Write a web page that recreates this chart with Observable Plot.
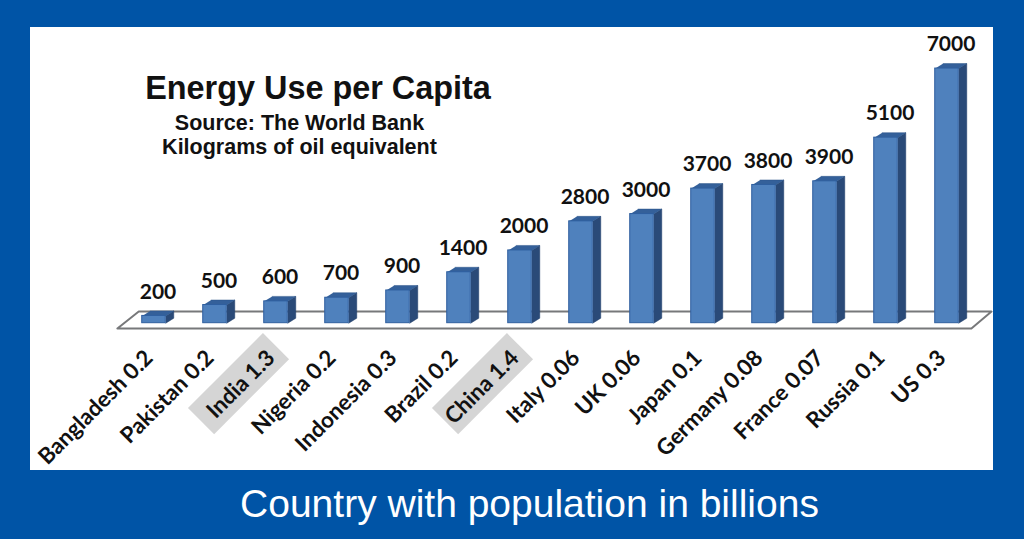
<!DOCTYPE html>
<html><head><meta charset="utf-8">
<script src="https://cdn.jsdelivr.net/npm/d3@7"></script>
<script src="https://cdn.jsdelivr.net/npm/@observablehq/plot@0.6"></script>
<style>
html,body{margin:0;padding:0;background:#0054a6;width:1024px;height:539px;overflow:hidden}
#panel{position:absolute;left:30px;top:27px;width:963px;height:443px;background:#fff}
#panel svg{display:block;background:transparent}
.t{position:absolute;text-align:center;font-family:"Liberation Sans",Arial,sans-serif;font-weight:bold;color:#111;white-space:nowrap}
#title{left:0;width:576px;top:43px;font-size:32.4px;line-height:36px}
#sub1{left:0;width:539px;top:84px;font-size:21.5px;line-height:24px}
#sub2{left:0;width:539px;top:108px;font-size:21.5px;line-height:24px}
#caption{position:absolute;left:0;width:1059px;top:479px;text-align:center;color:#fff;font:39px/50px "Liberation Sans",Arial,sans-serif;white-space:nowrap}
</style></head><body>
<div id="panel"></div>
<div id="caption">Country with population in billions</div>
<script>
const countries = ["Bangladesh","Pakistan","India","Nigeria","Indonesia","Brazil","China","Italy","UK","Japan","Germany","France","Russia","US"];
const population = ["0.2","0.2","1.3","0.2","0.3","0.2","1.4","0.06","0.06","0.1","0.08","0.07","0.1","0.3"];
const energyUse = [200,500,600,700,900,1400,2000,2800,3000,3700,3800,3900,5100,7000];
const highlighted = ["India","China"];
const floorX = [-0.6,13.4,13.73,-0.25,-0.6];
const floorY = [-144,-144,320,320,-144];

const halfBar = 0.193, depthX = 0.131, depthY = 137;
const rows = countries.map((c,i)=>({c,i,v:energyUse[i],label:`${c} ${population[i]}`}));
const face = (pts,r)=>pts.map(([x,y])=>({x,y,id:r.c}));
const sides = rows.flatMap(r=>face([[r.i+halfBar,0],[r.i+halfBar+depthX,depthY],[r.i+halfBar+depthX,r.v+depthY],[r.i+halfBar,r.v]],r));
const tops = rows.flatMap(r=>face([[r.i-halfBar,r.v],[r.i+halfBar,r.v],[r.i+halfBar+depthX,r.v+depthY],[r.i-halfBar+depthX,r.v+depthY]],r));
const floor = floorX.map((x,i)=>({x,y:floorY[i]}));

const chart = Plot.plot({
  width:963,height:443,margin:0,
  x:{domain:[-123.5/61,(963-123.5)/61],range:[0,963],axis:null},
  y:{domain:[8128,-4049],range:[0,443],axis:null},
  marks:[
    Plot.line(floor,{x:"x",y:"y",stroke:"#77787a",strokeWidth:2,curve:"linear"}),
    Plot.line(sides,{x:"x",y:"y",z:"id",fill:"#2a4a78",stroke:"#1f3d68",strokeWidth:0.5,curve:"linear"}),
    Plot.line(tops,{x:"x",y:"y",z:"id",fill:"#34609a",stroke:"#2d5488",strokeWidth:0.5,curve:"linear"}),
    Plot.rect(rows,{x1:d=>d.i-halfBar,x2:d=>d.i+halfBar,y1:0,y2:"v",fill:"#4f81bd",stroke:"#2f5f9f",strokeWidth:1}),
    Plot.text(rows,{x:"i",y:"v",text:d=>String(d.v),dx:4,dy:-24,fontFamily:"Lato,sans-serif",fontWeight:700,fontSize:21,fill:"#111"}),
    Plot.vector(rows.filter(d=>highlighted.includes(d.c)),{x:"i",y:0,dy:23,length:106,rotate:225,anchor:"start",stroke:"#d5d5d5",strokeWidth:37,strokeLinecap:"butt",
      shape:{draw(ctx,l){ctx.moveTo(0,0);ctx.lineTo(0,-l);}}}),
    Plot.text(rows,{x:"i",y:0,text:"label",dx:-5,dy:31,textAnchor:"end",rotate:-45,lineAnchor:"middle",fontFamily:"Lato,sans-serif",fontWeight:700,fontSize:22.3,fill:"#111"})
  ]
});
const panel=document.getElementById("panel");
panel.append(chart);
for(const [id,txt] of [["title","Energy Use per Capita"],["sub1","Source: The World Bank"],["sub2","Kilograms of oil equivalent"]]){
  const d=document.createElement("div");d.className="t";d.id=id;d.textContent=txt;panel.append(d);
}
</script>
</body></html>
